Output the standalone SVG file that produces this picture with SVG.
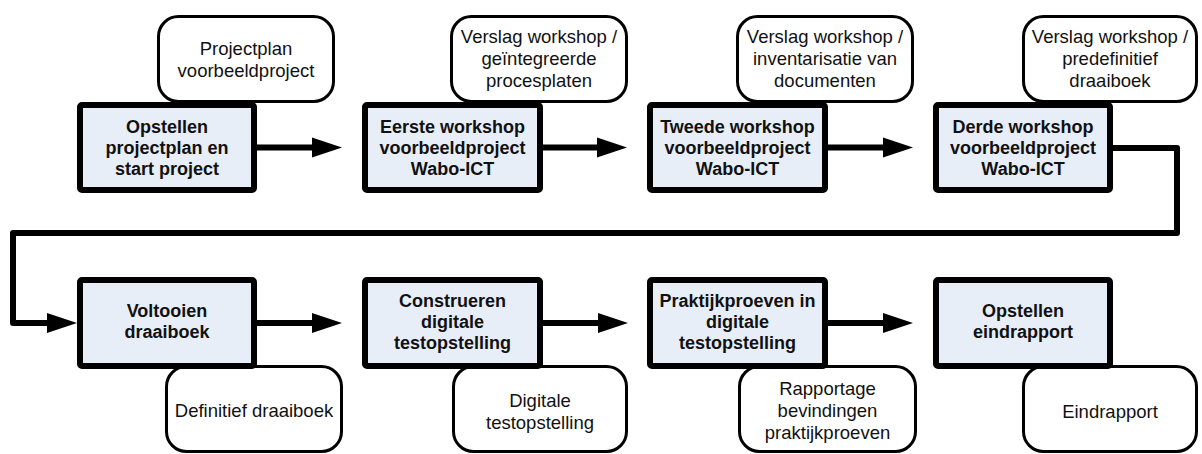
<svg xmlns="http://www.w3.org/2000/svg" width="1202" height="454" viewBox="0 0 1202 454">
<style>
.doc{fill:#fff;stroke:#000;stroke-width:3}
.proc{fill:#e8eef8;stroke:#000;stroke-width:6}
.pt{font-family:"Liberation Sans",Arial,sans-serif;font-size:18px;font-weight:bold;fill:#111;text-anchor:middle}
.dt{font-family:"Liberation Sans",Arial,sans-serif;font-size:18.5px;fill:#111;text-anchor:middle}
.con{fill:none;stroke:#000;stroke-width:6;stroke-linejoin:round}
</style>
<defs>
<marker id="ah" markerUnits="userSpaceOnUse" markerWidth="32" markerHeight="22" viewBox="0 -11 32 22" refX="2" refY="0" orient="auto">
<path d="M0,-10 L30,0 L0,10 Z" fill="#000"/>
</marker>
</defs>
<rect width="1202" height="454" fill="#fff"/>

<g id="doc1"><rect class="doc" x="158.5" y="16.5" width="175" height="85" rx="20"/>
<text class="dt" x="246" y="55">Projectplan</text><text class="dt" x="246" y="77">voorbeeldproject</text></g>
<g id="doc2"><rect class="doc" x="451.5" y="16.5" width="175" height="85" rx="20"/>
<text class="dt" x="539" y="42.5">Verslag workshop /</text><text class="dt" x="539" y="64.5">geïntegreerde</text><text class="dt" x="539" y="86.5">procesplaten</text></g>
<g id="doc3"><rect class="doc" x="737.5" y="16.5" width="175" height="85" rx="20"/>
<text class="dt" x="825" y="42.5">Verslag workshop /</text><text class="dt" x="825" y="64.5">inventarisatie van</text><text class="dt" x="825" y="86.5">documenten</text></g>
<g id="doc4"><rect class="doc" x="1023.5" y="16.5" width="173" height="85" rx="20"/>
<text class="dt" x="1110" y="42.5">Verslag workshop /</text><text class="dt" x="1110" y="64.5">predefinitief</text><text class="dt" x="1110" y="86.5">draaiboek</text></g>

<g id="doc5"><rect class="doc" x="166.5" y="366.5" width="175" height="85" rx="20"/>
<text class="dt" x="254" y="417">Definitief draaiboek</text></g>
<g id="doc6"><rect class="doc" x="453.5" y="366.5" width="173" height="85" rx="20"/>
<text class="dt" x="540" y="407">Digitale</text><text class="dt" x="540" y="429">testopstelling</text></g>
<g id="doc7"><rect class="doc" x="739.5" y="366.5" width="176" height="85" rx="20"/>
<text class="dt" x="827.5" y="395">Rapportage</text><text class="dt" x="827.5" y="417">bevindingen</text><text class="dt" x="827.5" y="439">praktijkproeven</text></g>
<g id="doc8"><rect class="doc" x="1023.5" y="366.5" width="173" height="85" rx="20"/>
<text class="dt" x="1110" y="418">Eindrapport</text></g>

<g id="connectors">
<path class="con" d="M257,147.5 H314" marker-end="url(#ah)"/>
<path class="con" d="M543,147.5 H599" marker-end="url(#ah)"/>
<path class="con" d="M828,147.5 H885" marker-end="url(#ah)"/>
<path class="con" d="M1113,148 H1177 V233 H13 V323 H49" marker-end="url(#ah)"/>
<path class="con" d="M257,323 H314" marker-end="url(#ah)"/>
<path class="con" d="M543,323 H600" marker-end="url(#ah)"/>
<path class="con" d="M828,323 H885" marker-end="url(#ah)"/>
</g>

<g id="p1"><rect class="proc" x="80" y="105" width="174" height="85" rx="2"/>
<text class="pt" x="167" y="133">Opstellen</text><text class="pt" x="167" y="154">projectplan en</text><text class="pt" x="167" y="175">start project</text></g>
<g id="p2"><rect class="proc" x="365" y="105" width="175" height="85" rx="2"/>
<text class="pt" x="452.5" y="133">Eerste workshop</text><text class="pt" x="452.5" y="154">voorbeeldproject</text><text class="pt" x="452.5" y="175">Wabo-ICT</text></g>
<g id="p3"><rect class="proc" x="650" y="105" width="175" height="85" rx="2"/>
<text class="pt" x="737.5" y="133">Tweede workshop</text><text class="pt" x="737.5" y="154">voorbeeldproject</text><text class="pt" x="737.5" y="175">Wabo-ICT</text></g>
<g id="p4"><rect class="proc" x="936" y="105" width="174" height="85" rx="2"/>
<text class="pt" x="1023" y="133">Derde workshop</text><text class="pt" x="1023" y="154">voorbeeldproject</text><text class="pt" x="1023" y="175">Wabo-ICT</text></g>

<g id="p5"><rect class="proc" x="80" y="280" width="174" height="86" rx="2"/>
<text class="pt" x="167" y="317">Voltooien</text><text class="pt" x="167" y="338">draaiboek</text></g>
<g id="p6"><rect class="proc" x="365" y="280" width="175" height="86" rx="2"/>
<text class="pt" x="452.5" y="307">Construeren</text><text class="pt" x="452.5" y="328">digitale</text><text class="pt" x="452.5" y="349">testopstelling</text></g>
<g id="p7"><rect class="proc" x="650" y="280" width="175" height="86" rx="2"/>
<text class="pt" x="737.5" y="307">Praktijkproeven in</text><text class="pt" x="737.5" y="328">digitale</text><text class="pt" x="737.5" y="349">testopstelling</text></g>
<g id="p8"><rect class="proc" x="936" y="280" width="174" height="86" rx="2"/>
<text class="pt" x="1023" y="317">Opstellen</text><text class="pt" x="1023" y="338">eindrapport</text></g>
</svg>
